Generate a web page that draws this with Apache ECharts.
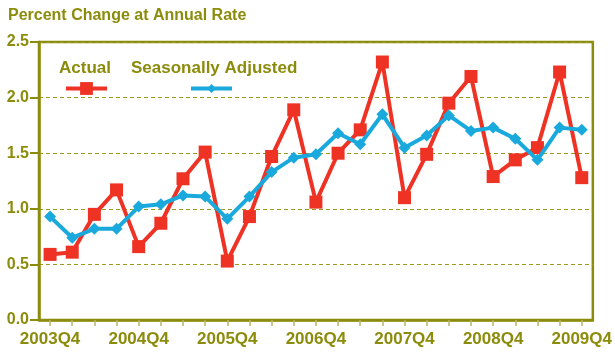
<!DOCTYPE html>
<html>
<head>
<meta charset="utf-8">
<script src="https://cdn.jsdelivr.net/npm/echarts@6/dist/echarts.min.js"></script>
<style>
  html, body { margin: 0; padding: 0; background: #fff; }
  #chart { width: 615px; height: 354px; }
</style>
</head>
<body>
<div id="chart"></div>
<script>
// Quarters from 2003Q4 to 2009Q4
const quarters = [
  '2003Q4', '2004Q1', '2004Q2', '2004Q3',
  '2004Q4', '2005Q1', '2005Q2', '2005Q3',
  '2005Q4', '2006Q1', '2006Q2', '2006Q3',
  '2006Q4', '2007Q1', '2007Q2', '2007Q3',
  '2007Q4', '2008Q1', '2008Q2', '2008Q3',
  '2008Q4', '2009Q1', '2009Q2', '2009Q3',
  '2009Q4'
];

// Percent change at annual rate
const actual = [
  0.59, 0.61, 0.95, 1.17,
  0.66, 0.87, 1.27, 1.51,
  0.53, 0.93, 1.47, 1.89,
  1.06, 1.50, 1.71, 2.32,
  1.10, 1.49, 1.95, 2.19,
  1.29, 1.44, 1.55, 2.23,
  1.28
];

const seasonallyAdjusted = [
  0.93, 0.74, 0.82, 0.82,
  1.02, 1.04, 1.12, 1.11,
  0.91, 1.11, 1.33, 1.46,
  1.49, 1.68, 1.58, 1.85,
  1.55, 1.66, 1.84, 1.70,
  1.73, 1.63, 1.44, 1.73,
  1.71
];

const yTicks = [0, 0.5, 1.0, 1.5, 2.0, 2.5];

const olive = '#8c8c0c';
const red = '#ee3224';
const blue = '#1aa9dc';
const font = '"Liberation Sans", Arial, sans-serif';

const chart = echarts.init(document.getElementById('chart'), null, { renderer: 'canvas' });

chart.setOption({
  animation: false,
  backgroundColor: '#fff',
  textStyle: { fontFamily: font },
  grid: {
    left: 39, right: 22, top: 42, bottom: 34,
    show: true,
    borderColor: olive,
    borderWidth: 2.5,
    backgroundColor: 'transparent'
  },
  graphic: [
    {
      type: 'text', left: 8, top: 8,
      style: { text: 'Percent Change at Annual Rate', fill: olive, font: 'bold 16px ' + font }
    },
    {
      type: 'text', left: 59, top: 60,
      style: { text: 'Actual', fill: olive, font: 'bold 17px ' + font }
    },
    {
      type: 'text', left: 131, top: 60,
      style: { text: 'Seasonally Adjusted', fill: olive, font: 'bold 17px ' + font }
    }
  ],
  legend: [
    {
      data: ['Actual'], left: 59, top: 75.5, itemWidth: 41, itemHeight: 16,
      formatter: () => '', textStyle: { fontSize: 1 },
      lineStyle: { width: 4 }, selectedMode: false
    },
    {
      data: ['Seasonally Adjusted'], left: 184, top: 78, itemWidth: 41, itemHeight: 11,
      formatter: () => '', textStyle: { fontSize: 1 },
      lineStyle: { width: 4 }, selectedMode: false
    }
  ],
  xAxis: {
    type: 'category',
    data: quarters,
    boundaryGap: true,
    axisLine: { lineStyle: { color: olive, width: 2.5 } },
    axisTick: {
      show: true, alignWithLabel: true, interval: 0, length: 6,
      lineStyle: { color: '#b5b56a', width: 1.5 }
    },
    axisLabel: {
      interval: 3, color: olive, fontWeight: 'bold', fontSize: 17,
      fontFamily: font, margin: 11
    },
    splitLine: { show: false }
  },
  yAxis: {
    type: 'value',
    min: 0, max: 2.5, interval: 0.5,
    axisLine: { show: true, lineStyle: { color: olive, width: 2.5 } },
    axisTick: { show: true, length: 9, lineStyle: { color: olive, width: 2 } },
    axisLabel: {
      color: olive, fontWeight: 'bold', fontSize: 16, fontFamily: font, margin: 10,
      formatter: v => yTicks.includes(v) ? v.toFixed(1) : ''
    },
    splitLine: { show: true, lineStyle: { color: '#9a9a22', type: [4, 3], width: 1.2 } }
  },
  series: [
    {
      name: 'Actual',
      type: 'line',
      data: actual,
      color: red,
      symbol: 'rect',
      symbolSize: 13,
      lineStyle: { width: 4, color: red },
      itemStyle: { color: red },
      z: 3
    },
    {
      name: 'Seasonally Adjusted',
      type: 'line',
      data: seasonallyAdjusted,
      color: blue,
      symbol: 'diamond',
      symbolSize: 12,
      lineStyle: { width: 4, color: blue },
      itemStyle: { color: blue },
      z: 4
    }
  ]
});
</script>
</body>
</html>
